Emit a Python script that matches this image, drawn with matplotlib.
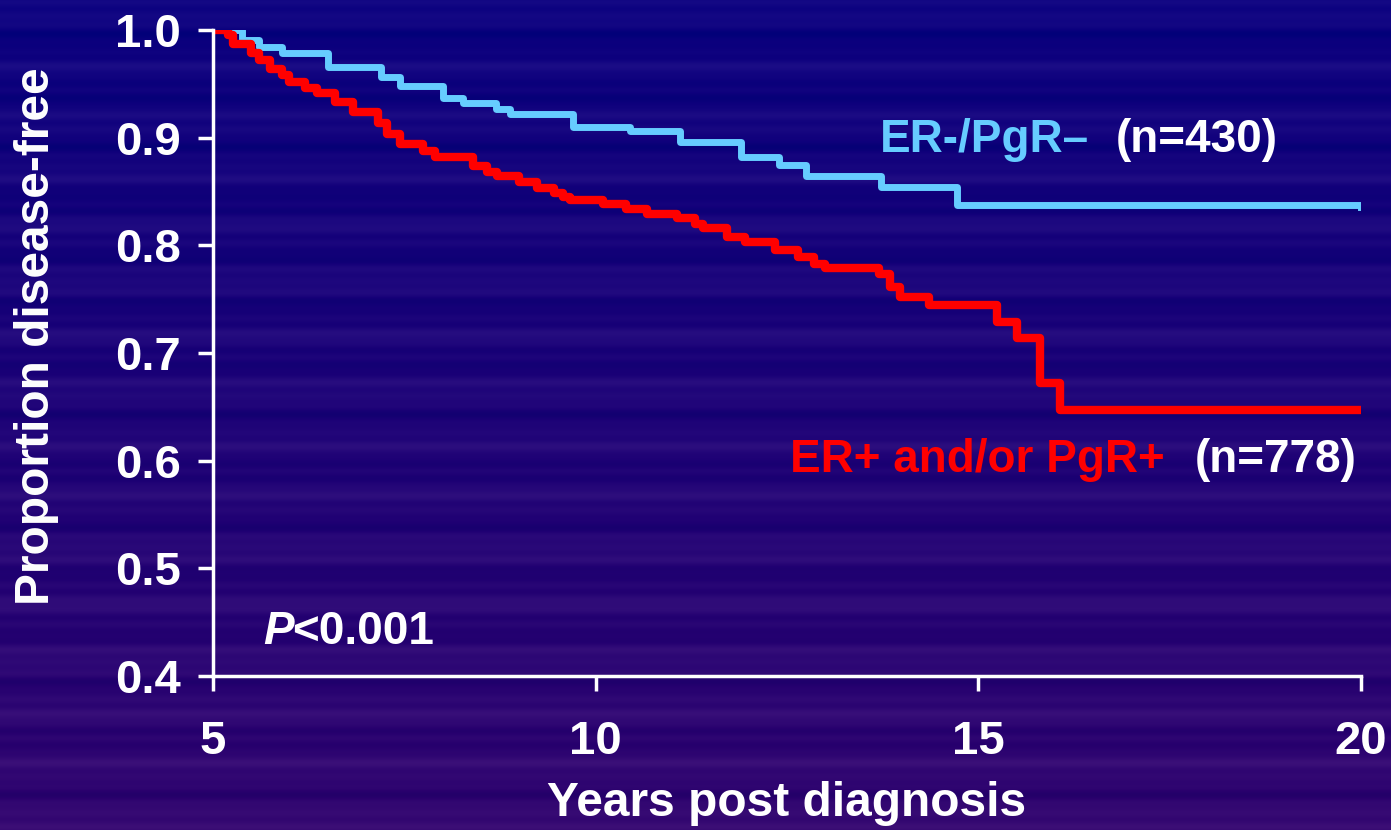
import numpy as np
import matplotlib
matplotlib.use('Agg')
import matplotlib.pyplot as plt

plt.rcParams['font.family'] = ['Liberation Sans', 'DejaVu Sans']
plt.rcParams['font.weight'] = 'bold'

# ER-/PgR- (n=430)
neg_years = [5.0, 5.38, 5.6, 5.9, 6.5, 7.2, 7.45, 8.0, 8.27, 8.7, 8.88, 9.7, 10.45,
             11.1, 11.9, 12.4, 12.75, 13.73, 14.72, 20.0]
neg_prop = [1.0, 0.991, 0.984, 0.979, 0.966, 0.956, 0.948, 0.937, 0.932, 0.927, 0.922,
            0.910, 0.906, 0.896, 0.882, 0.875, 0.864, 0.854, 0.837, 0.836]

# ER+ and/or PgR+ (n=778)
pos_years = [5.0, 5.2, 5.26, 5.5, 5.6, 5.74, 5.9, 6.0, 6.2, 6.36, 6.6, 6.83, 7.15, 7.27,
             7.44, 7.75, 7.9, 8.4, 8.58, 8.71, 9.0, 9.23, 9.45, 9.57, 9.66, 10.1, 10.4,
             10.67, 11.06, 11.3, 11.4, 11.72, 11.95, 12.35, 12.65, 12.85, 13.0, 13.7,
             13.85, 13.98, 14.35, 15.24, 15.5, 15.81, 16.07, 20.0]
pos_prop = [1.0, 0.995, 0.987, 0.979, 0.972, 0.964, 0.958, 0.952, 0.946, 0.941, 0.933,
            0.924, 0.914, 0.903, 0.894, 0.888, 0.882, 0.874, 0.868, 0.864, 0.859, 0.853,
            0.849, 0.845, 0.842, 0.838, 0.834, 0.829, 0.825, 0.820, 0.816, 0.808, 0.803,
            0.796, 0.789, 0.783, 0.779, 0.773, 0.761, 0.752, 0.745, 0.729, 0.714, 0.672,
            0.647, 0.647]

x_ticks = [5, 10, 15, 20]
y_ticks = [0.4, 0.5, 0.6, 0.7, 0.8, 0.9, 1.0]

fig = plt.figure(figsize=(13.91, 8.3), dpi=100)

# striped slide background
rows = np.linspace(0, 1, 830)
top = np.array([12, 2, 128]) / 255
bottom = np.array([50, 6, 112]) / 255
base = top[None, :] * (1 - rows[:, None]) + bottom[None, :] * rows[:, None]
wave = (0.5 * np.sin(rows * 97) + 0.3 * np.sin(rows * 233 + 1.3) + 0.2 * np.sin(rows * 411 + 0.4))
tint = np.array([0.07, 0.06, 0.04])
bg = np.clip(base + wave[:, None] * tint[None, :] * 0.7, 0, 1)
bg_ax = fig.add_axes([0, 0, 1, 1], zorder=-10)
bg_ax.imshow(np.repeat(bg[:, None, :], 4, axis=1), aspect='auto', extent=[0, 1, 0, 1])
bg_ax.axis('off')

ax = fig.add_axes([0.1531, 0.1855, 0.8253, 0.7784])
ax.patch.set_alpha(0)

ax.step(neg_years, neg_prop, where='post', color='#66CCFF', lw=5, solid_joinstyle='round')
ax.step(pos_years, pos_prop, where='post', color='#FF0000', lw=6, solid_joinstyle='round')

ax.set_xlim(5, 20)
ax.set_ylim(0.4, 1.0)
ax.set_xticks(x_ticks)
ax.set_yticks(y_ticks)
ax.set_yticklabels(['%.1f' % v for v in y_ticks])

for s in ['top', 'right']:
    ax.spines[s].set_visible(False)
for s in ['left', 'bottom']:
    ax.spines[s].set_color('white')
    ax.spines[s].set_linewidth(2.5)
ax.tick_params(colors='white', width=2.5, length=11, labelsize=34)
ax.tick_params(axis='y', pad=12)
ax.tick_params(axis='x', pad=21)
for lab in ax.get_xticklabels() + ax.get_yticklabels():
    lab.set_fontweight('bold')

ax.set_xlabel('Years post diagnosis', color='white', fontsize=34.5, fontweight='bold', labelpad=12)
fig.text(37 / 1391, 1 - 336 / 830, 'Proportion disease-free', color='white', fontsize=34.5,
         fontweight='bold', rotation=90, ha='center', va='center')

fs = 33
ax.text(13.72, 0.898, 'ER-/PgR\u2013', color='#66CCFF', fontsize=fs, fontweight='bold', va='center')
ax.text(16.79, 0.898, '(n=430)', color='white', fontsize=fs, fontweight='bold', va='center')
ax.text(12.54, 0.601, 'ER+ and/or PgR+', color='#FF0000', fontsize=fs, fontweight='bold', va='center')
ax.text(17.83, 0.601, '(n=778)', color='white', fontsize=fs, fontweight='bold', va='center')
ax.text(5.65, 0.441, 'P', color='white', fontsize=fs, fontweight='bold', style='italic', va='center')
ax.text(6.03, 0.441, '<0.001', color='white', fontsize=fs, fontweight='bold', va='center')

fig.savefig('out.png', dpi=100)
